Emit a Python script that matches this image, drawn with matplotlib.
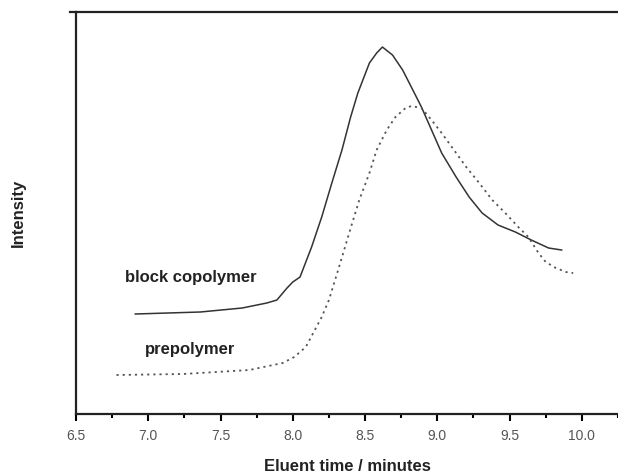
import matplotlib.pyplot as plt

# block copolymer trace (elution time in minutes, intensity in arbitrary units)
copolymer_time = [6.91, 7.36, 7.65, 7.82, 7.89, 7.96, 8.00, 8.05, 8.13, 8.20, 8.27,
                  8.34, 8.40, 8.45, 8.53, 8.58, 8.62, 8.69, 8.76, 8.82, 8.89, 8.96,
                  9.03, 9.13, 9.22, 9.31, 9.42, 9.54, 9.65, 9.77, 9.86]
copolymer_int = [100, 102, 106, 111, 114, 126, 132, 137, 167, 197, 231,
                 264, 297, 321, 351, 361, 367, 359, 344, 327, 307, 284,
                 261, 237, 217, 201, 189, 182, 174, 166, 164]

# prepolymer trace
prepolymer_time = [6.78, 7.24, 7.70, 7.93, 8.01, 8.09, 8.20, 8.25, 8.32, 8.39, 8.46,
                   8.53, 8.58, 8.65, 8.71, 8.78, 8.82, 8.89, 8.96, 9.03, 9.10, 9.20,
                   9.29, 9.38, 9.47, 9.56, 9.63, 9.70, 9.75, 9.82, 9.89, 9.94]
prepolymer_int = [39, 40, 44, 51, 57, 67, 97, 114, 147, 181, 214,
                  241, 264, 284, 297, 306, 308, 306, 294, 281, 267, 247,
                  231, 214, 201, 187, 177, 161, 152, 146, 142, 141]

major_ticks = [6.5, 7.0, 7.5, 8.0, 8.5, 9.0, 9.5, 10.0]

plt.rcParams['font.family'] = ['Liberation Sans', 'DejaVu Sans']

fig = plt.figure(figsize=(6.18, 4.74), dpi=100)
ax = fig.add_axes([0.123, 0.1266, 0.877, 0.848])

ax.plot(copolymer_time, copolymer_int, color='#333333', lw=1.1)
ax.plot(prepolymer_time, prepolymer_int, color='#555555', lw=1.3, linestyle=(0, (1.2, 2.2)))

ax.text(6.84, 137, 'block copolymer', fontsize=12, fontweight='bold', color='#222222', va='center')
ax.text(6.98, 64, 'prepolymer', fontsize=12, fontweight='bold', color='#222222', va='center')

ax.set_xlim(6.5, 10.24)
ax.set_ylim(0, 402)

ax.set_xticks(major_ticks)
ax.set_xticklabels([f'{t:.1f}' for t in major_ticks])
ax.set_xticks([6.75, 7.25, 7.75, 8.25, 8.75, 9.25, 9.75, 10.25], minor=True)
ax.tick_params(axis='x', which='major', direction='out', length=5, width=1.5,
               labelsize=10, labelcolor='#555555', pad=6)
ax.tick_params(axis='x', which='minor', direction='out', length=3, width=1.5)
ax.set_yticks([])

for side in ['left', 'bottom', 'top']:
    ax.spines[side].set_linewidth(1.6)
    ax.spines[side].set_color('#222222')
ax.spines['right'].set_visible(False)

# the top frame line reaches a bit past the left axis
ax.plot([-0.012, 0], [1, 1], transform=ax.transAxes, color='#222222', lw=1.6, clip_on=False)

ax.set_xlabel('Eluent time / minutes', fontsize=12, fontweight='bold', color='#222222', labelpad=11)
ax.set_ylabel('Intensity', fontsize=12, fontweight='bold', color='#222222', labelpad=36)

fig.savefig('out.png', dpi=100)
